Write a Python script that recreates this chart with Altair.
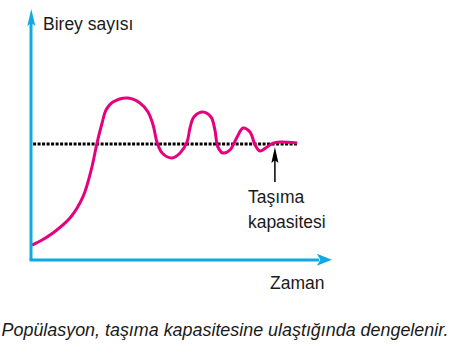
import altair as alt
import pandas as pd

# Population curve (time in arbitrary units 0-100, population with carrying capacity K = 100)
time = [0.3, 3.7, 7.3, 13.0, 17.3, 20.3, 22.0, 23.7, 25.0, 27.3, 32.3, 36.3, 39.0, 40.7,
        42.0, 43.7, 47.0, 49.7, 52.0, 53.0, 54.3, 57.3, 60.0, 61.3, 62.3, 64.0, 66.3,
        68.7, 70.7, 73.0, 74.7, 76.3, 78.7, 80.7, 83.0, 88.7]
population = [12.9, 17.3, 23.3, 36.2, 54.4, 80.2, 100.9, 118.2, 129.4, 136.3, 139.8, 135.5,
              127.7, 116.5, 101.8, 92.3, 88.0, 92.3, 101.8, 113.9, 123.4, 127.7, 123.4,
              112.2, 97.5, 92.3, 94.9, 106.1, 113.9, 110.4, 99.2, 94.0, 97.5, 100.9,
              101.8, 100.9]

capacity = 100
capacity_start, capacity_end = 0.7, 89.0

y_title = "Birey sayısı"
x_title = "Zaman"
note_lines = ["Taşıma", "kapasitesi"]
caption = "Popülasyon, taşıma kapasitesine ulaştığında dengelenir."

X_DOM = [0, 100]
Y_DOM = [0, 220]
BLUE = "#0FA9E6"
PINK = "#E6007E"
FONT = "Liberation Sans"
TXT = "#1a1a1a"

xs = alt.Scale(domain=X_DOM, nice=False, zero=False)
ys = alt.Scale(domain=Y_DOM, nice=False, zero=False)

def X(f):
    return alt.X(f, type="quantitative", scale=xs, axis=None)

def Y(f):
    return alt.Y(f, type="quantitative", scale=ys, axis=None)

curve_df = pd.DataFrame({"t": time, "n": population, "i": range(len(time))})
cap_df = pd.DataFrame({"t": [capacity_start], "t2": [capacity_end], "n": [capacity]})

# axes (drawn as arrows)
yaxis_df = pd.DataFrame({"t": [0], "n": [0], "n2": [208]})
xaxis_df = pd.DataFrame({"t": [-0.5], "t2": [96], "n": [0]})
yhead_df = pd.DataFrame({"t": [0.1], "n": [209.2]})
xhead_df = pd.DataFrame({"t": [97.8], "n": [0.3]})

# annotation arrow
ashaft_df = pd.DataFrame({"t": [81.3], "n": [67.3], "n2": [88]})
ahead_df = pd.DataFrame({"t": [81.3], "n": [90.6]})

ytitle_df = pd.DataFrame({"t": [4.0], "n": [198.4], "label": [y_title]})
xtitle_df = pd.DataFrame({"t": [79.7], "n": [-25.0], "label": [x_title]})
note_df = pd.DataFrame({"t": [72.3, 72.3], "n": [49.2, 27.6], "label": note_lines})

up_head = "M0,-1L0.47,1L0,0.65L-0.47,1Z"
right_head = "M1,0L-1,-0.8L-0.55,0L-1,0.8Z"
up_head_small = "M0,-1L0.44,1L0,0.65L-0.44,1Z"

yaxis = alt.Chart(yaxis_df).mark_rule(color=BLUE, strokeWidth=3).encode(
    x=X("t"), y=Y("n"), y2="n2")
xaxis = alt.Chart(xaxis_df).mark_rule(color=BLUE, strokeWidth=3).encode(
    x=X("t"), x2="t2", y=Y("n"))
yhead = alt.Chart(yhead_df).mark_point(shape=up_head, size=289, filled=True,
                                       color=BLUE, opacity=1, strokeWidth=0).encode(
    x=X("t"), y=Y("n"))
xhead = alt.Chart(xhead_df).mark_point(shape=right_head, size=225, filled=True,
                                       color=BLUE, opacity=1, strokeWidth=0).encode(
    x=X("t"), y=Y("n"))

cap_line = alt.Chart(cap_df).mark_rule(color="black", strokeWidth=3,
                                       strokeDash=[3, 1.5]).encode(
    x=X("t"), x2="t2", y=Y("n"))

curve = alt.Chart(curve_df).mark_line(color=PINK, strokeWidth=3,
                                      interpolate="catmull-rom").encode(
    x=X("t"), y=Y("n"), order="i:Q")

ashaft = alt.Chart(ashaft_df).mark_rule(color="black", strokeWidth=1.5).encode(
    x=X("t"), y=Y("n"), y2="n2")
ahead = alt.Chart(ahead_df).mark_point(shape=up_head_small, size=256, filled=True,
                                       color="black", opacity=1, strokeWidth=0).encode(
    x=X("t"), y=Y("n"))

text_kw = dict(font=FONT, fontSize=17.5, color=TXT, align="left", baseline="alphabetic")
ytitle = alt.Chart(ytitle_df).mark_text(**text_kw).encode(x=X("t"), y=Y("n"), text="label:N")
xtitle = alt.Chart(xtitle_df).mark_text(**text_kw).encode(x=X("t"), y=Y("n"), text="label:N")
note = alt.Chart(note_df).mark_text(**text_kw).encode(x=X("t"), y=Y("n"), text="label:N")

chart = alt.layer(
    cap_line, curve, yaxis, xaxis, yhead, xhead, ashaft, ahead, ytitle, xtitle, note
).properties(
    width=300,
    height=255,
    autosize=alt.AutoSizeParams(type="none"),
    padding={"left": 31, "top": 5, "right": 119, "bottom": 90},
    title=alt.TitleParams(
        text=caption, orient="bottom", anchor="middle", dx=44, offset=30,
        font=FONT, fontSize=17.9, fontStyle="italic", fontWeight="normal", color=TXT,
    ),
).configure_view(strokeWidth=0)

chart.save("out.html", embed_options={"renderer": "svg", "actions": False})
